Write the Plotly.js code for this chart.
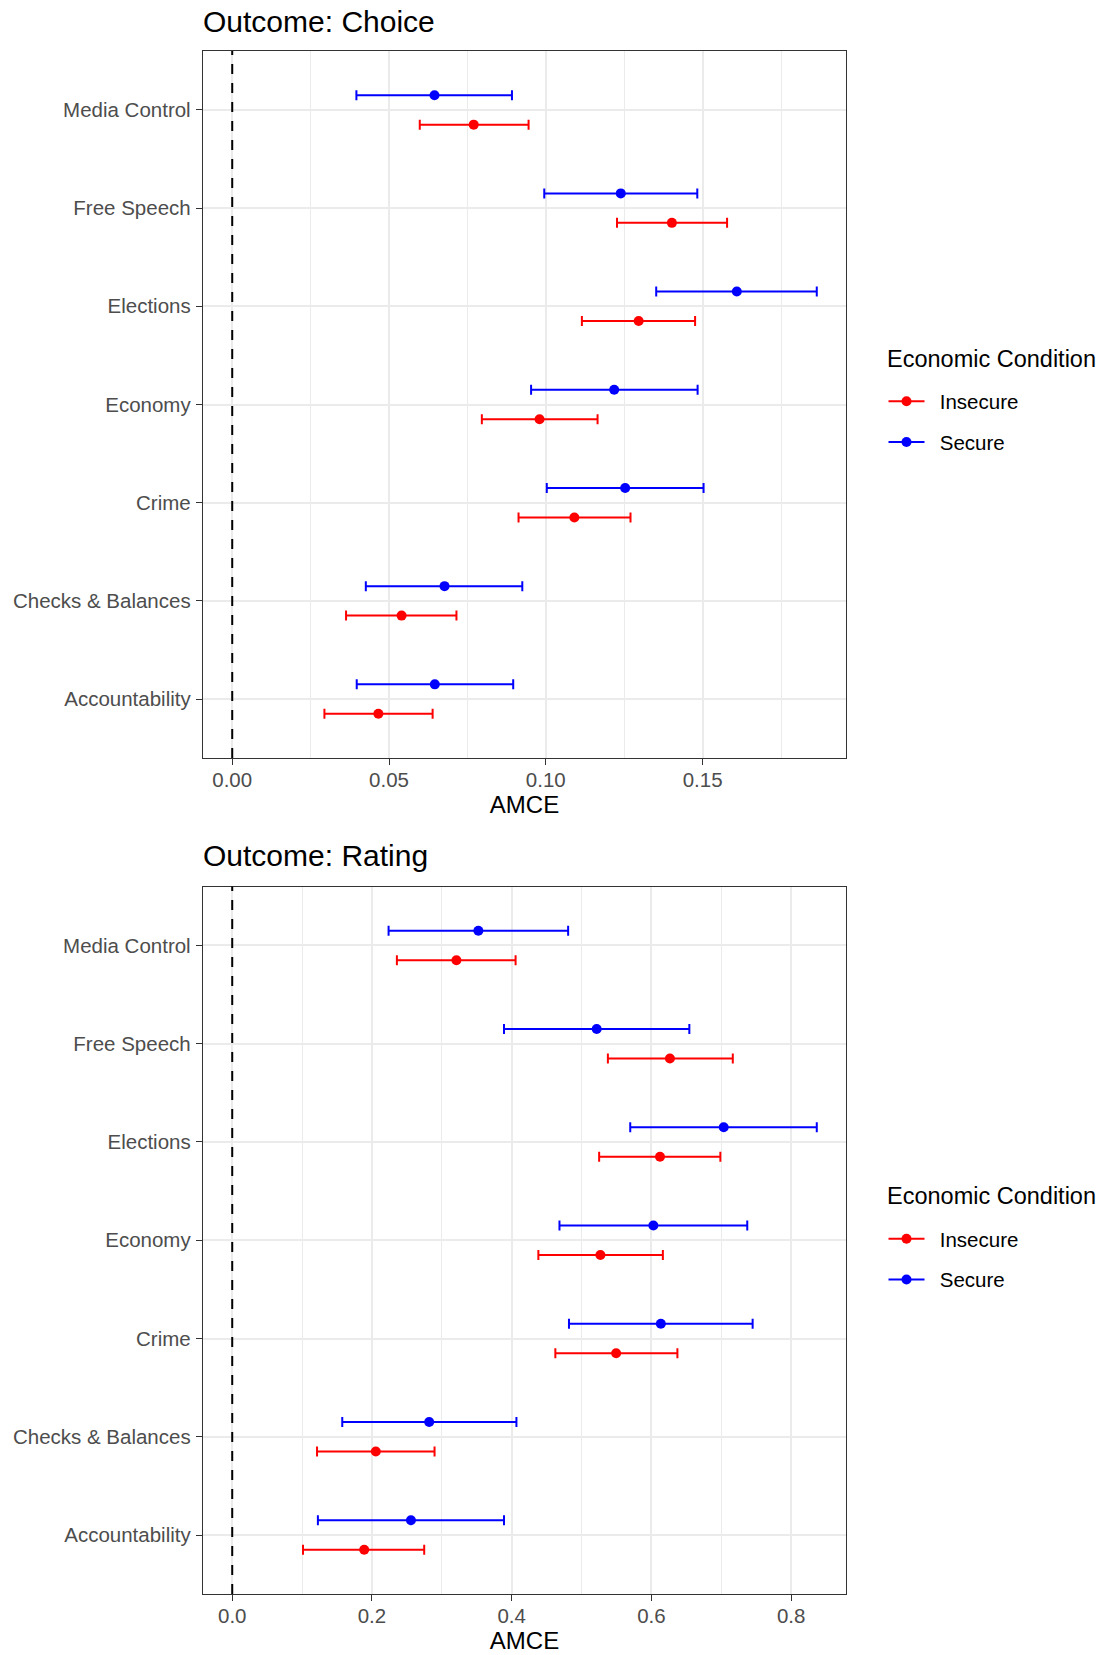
<!DOCTYPE html>
<html>
<head>
<meta charset="utf-8">
<script src="https://cdn.plot.ly/plotly-3.0.1.min.js"></script>
<style>
  html, body { margin: 0; padding: 0; background: #ffffff; }
  #chart { width: 1120px; height: 1655px; }
</style>
</head>
<body>
<div id="chart"></div>
<script>
// ---- Data ----
const categories = ["Media Control", "Free Speech", "Elections", "Economy", "Crime", "Checks & Balances", "Accountability"];
const groupNames = ["Insecure", "Secure"];
const panelTitles = ["Outcome: Choice", "Outcome: Rating"];
const legendTitle = "Economic Condition";
const axisTitle = "AMCE";

// Outcome: Choice
const choiceSecureEst   = [0.0645, 0.1239, 0.1609, 0.1218, 0.1253, 0.0677, 0.0646];
const choiceSecureLo    = [0.0396, 0.0995, 0.1352, 0.0953, 0.1003, 0.0426, 0.0397];
const choiceSecureHi    = [0.0892, 0.1483, 0.1864, 0.1484, 0.1503, 0.0925, 0.0896];
const choiceInsecureEst = [0.0770, 0.1402, 0.1296, 0.0980, 0.1091, 0.0540, 0.0466];
const choiceInsecureLo  = [0.0598, 0.1227, 0.1115, 0.0796, 0.0913, 0.0363, 0.0294];
const choiceInsecureHi  = [0.0945, 0.1578, 0.1476, 0.1165, 0.1270, 0.0715, 0.0639];

// Outcome: Rating
const ratingSecureEst   = [0.3523, 0.5217, 0.7035, 0.6028, 0.6135, 0.2819, 0.2558];
const ratingSecureLo    = [0.2238, 0.3890, 0.5697, 0.4684, 0.4820, 0.1575, 0.1226];
const ratingSecureHi    = [0.4808, 0.6543, 0.8367, 0.7372, 0.7449, 0.4068, 0.3890];
const ratingInsecureEst = [0.3209, 0.6265, 0.6123, 0.5270, 0.5495, 0.2055, 0.1889];
const ratingInsecureLo  = [0.2357, 0.5377, 0.5252, 0.4382, 0.4625, 0.1214, 0.1013];
const ratingInsecureHi  = [0.4056, 0.7165, 0.6987, 0.6164, 0.6372, 0.2896, 0.2748];

const referenceValue = 0;

// ---- Styling ----
const FONT = "Liberation Sans, Arial, Helvetica, sans-serif";
const colors = { Insecure: "#FF0000", Secure: "#0000FF" };
const dodge = { Insecure: -0.15, Secure: 0.15 };
const gridColor = "#ebebeb";
const frameColor = "#333333";

const W = 1120, H = 1655;
const M = { l: 203, r: 274, t: 51, b: 61 };
const plotW = W - M.l - M.r;
const plotH = H - M.t - M.b;
// convert pixel offsets (from top-left of page) into paper fractions
const px2x = px => (px - M.l) / plotW;
const px2y = py => (H - M.b - py) / plotH;

// category positions: first category at top
const catPos = categories.map((c, i) => categories.length - i);

function expandRange(los, his) {
  const lo = Math.min(referenceValue, ...los);
  const hi = Math.max(referenceValue, ...his);
  const pad = (hi - lo) * 0.05;
  return [lo - pad, hi + pad];
}

function pointTrace(name, est, lo, hi, xa, ya) {
  return {
    type: "scatter",
    mode: "markers",
    x: est,
    y: catPos.map(p => p + dodge[name]),
    xaxis: xa, yaxis: ya,
    marker: { color: colors[name], size: 10 },
    error_x: {
      type: "data", symmetric: false,
      array: est.map((v, i) => hi[i] - v),
      arrayminus: est.map((v, i) => v - lo[i]),
      color: colors[name], thickness: 2, width: 5
    },
    showlegend: false,
    hoverinfo: "x+y"
  };
}

function legendTrace(name, legendId) {
  return {
    type: "scatter",
    mode: "lines+markers",
    x: [null], y: [null],
    name: "\u2002" + name,
    legend: legendId,
    legendgroup: legendId + name,
    line: { color: colors[name], width: 2 },
    marker: { color: colors[name], size: 10 },
    showlegend: true
  };
}

const traces = [
  pointTrace("Insecure", choiceInsecureEst, choiceInsecureLo, choiceInsecureHi, "x", "y"),
  pointTrace("Secure", choiceSecureEst, choiceSecureLo, choiceSecureHi, "x", "y"),
  pointTrace("Insecure", ratingInsecureEst, ratingInsecureLo, ratingInsecureHi, "x2", "y2"),
  pointTrace("Secure", ratingSecureEst, ratingSecureLo, ratingSecureHi, "x2", "y2")
].concat(
  groupNames.map(g => legendTrace(g, "legend")),
  groupNames.map(g => legendTrace(g, "legend2"))
);

const choiceRange = expandRange(choiceSecureLo.concat(choiceInsecureLo), choiceSecureHi.concat(choiceInsecureHi));
const ratingRange = expandRange(ratingSecureLo.concat(ratingInsecureLo), ratingSecureHi.concat(ratingInsecureHi));

function xAxis(range, dtick, fmt, anchor) {
  return {
    range: range, anchor: anchor,
    tick0: 0, dtick: dtick, tickformat: fmt,
    ticks: "outside", ticklen: 6, tickwidth: 1.3, tickcolor: frameColor,
    tickfont: { family: FONT, size: 20.5, color: "#4d4d4d" },
    ticklabelstandoff: -3,
    showgrid: true, gridcolor: gridColor, gridwidth: 1.7,
    minor: { dtick: dtick / 2, tick0: 0, showgrid: true, gridcolor: gridColor, gridwidth: 0.9, ticks: "" },
    zeroline: false,
    showline: true, linecolor: frameColor, linewidth: 1.4, mirror: true,
    title: { text: axisTitle, font: { family: FONT, size: 24, color: "#000000" }, standoff: 5 },
    fixedrange: true
  };
}

function yAxis(domain, anchor) {
  return {
    domain: domain, anchor: anchor,
    range: [0.4, categories.length + 0.6],
    tickmode: "array", tickvals: catPos, ticktext: categories,
    ticks: "outside", ticklen: 6, tickwidth: 1.3, tickcolor: frameColor,
    tickfont: { family: FONT, size: 20.5, color: "#4d4d4d" },
    ticklabelstandoff: 1,
    showgrid: true, gridcolor: gridColor, gridwidth: 1.7,
    zeroline: false,
    showline: true, linecolor: frameColor, linewidth: 1.4, mirror: true,
    fixedrange: true
  };
}

function legendBox(yCenterPx) {
  return {
    x: px2x(883.5), xanchor: "left", y: px2y(yCenterPx), yanchor: "middle",
    font: { family: FONT, size: 20.5, color: "#000000" },
    itemwidth: 36,
    tracegroupgap: 11,
    bgcolor: "rgba(0,0,0,0)",
    itemclick: false, itemdoubleclick: false
  };
}

const topDomain = [px2y(758), 1];
const bottomDomain = [0, px2y(886.5)];

function textNote(text, xPx, yPx, size, yanchor) {
  return { text: text, xref: "paper", yref: "paper", x: px2x(xPx), xanchor: "left",
           y: px2y(yPx), yanchor: yanchor, showarrow: false,
           font: { family: FONT, size: size, color: "#000000" } };
}

const layout = {
  width: W, height: H,
  margin: { l: M.l, r: M.r, t: M.t, b: M.b, pad: 0 },
  paper_bgcolor: "#ffffff", plot_bgcolor: "#ffffff",
  font: { family: FONT, color: "#000000" },
  xaxis: xAxis(choiceRange, 0.05, ".2f", "y"),
  yaxis: yAxis(topDomain, "x"),
  xaxis2: xAxis(ratingRange, 0.2, ".1f", "y2"),
  yaxis2: yAxis(bottomDomain, "x2"),
  legend: legendBox(422),
  legend2: legendBox(1259.5),
  shapes: [
    { type: "line", xref: "x", yref: "y domain", x0: referenceValue, x1: referenceValue, y0: 0, y1: 1,
      line: { color: "#000000", width: 2, dash: "10px,9px" }, layer: "above" },
    { type: "line", xref: "x2", yref: "y2 domain", x0: referenceValue, x1: referenceValue, y0: 0, y1: 1,
      line: { color: "#000000", width: 2, dash: "10px,9px" }, layer: "above" }
  ],
  annotations: [
    textNote(panelTitles[0], 201, 40, 30, "bottom"),
    textNote(panelTitles[1], 201, 874, 30, "bottom"),
    textNote(legendTitle, 885, 359, 23.5, "middle"),
    textNote(legendTitle, 885, 1196, 23.5, "middle")
  ],
  hovermode: "closest"
};

Plotly.newPlot("chart", traces, layout, { displayModeBar: false, responsive: false });
</script>
</body>
</html>
